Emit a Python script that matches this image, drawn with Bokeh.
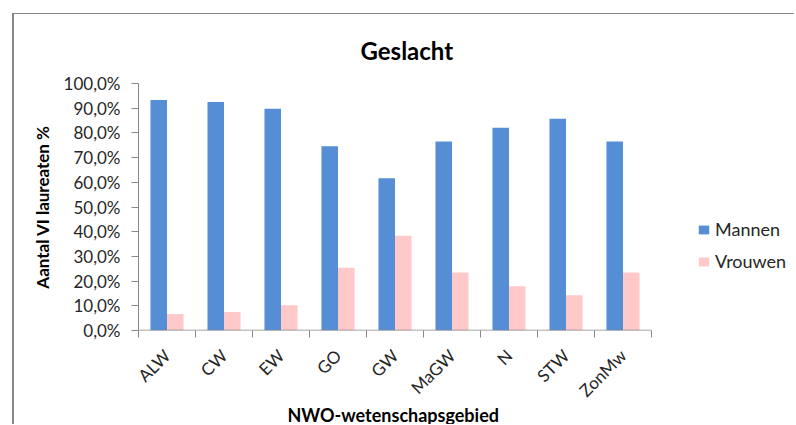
from bokeh.plotting import figure
from bokeh.models import (ColumnDataSource, FixedTicker, Legend, LegendItem, Title)
from bokeh.embed import file_html
from bokeh.resources import INLINE
import math

categories = ["ALW", "CW", "EW", "GO", "GW", "MaGW", "N", "STW", "ZonMw"]
mannen = [93.3, 92.5, 89.8, 74.6, 61.6, 76.5, 82.1, 85.7, 76.5]
vrouwen = [6.7, 7.5, 10.2, 25.4, 38.4, 23.5, 17.9, 14.3, 23.5]
y_ticks = [0, 10, 20, 30, 40, 50, 60, 70, 80, 90, 100]
y_tick_labels = ["0,0%", "10,0%", "20,0%", "30,0%", "40,0%", "50,0%",
                 "60,0%", "70,0%", "80,0%", "90,0%", "100,0%"]

FONT = "Lato"
BLUE = "#558ED5"
PINK = "#FFC9C9"
AXIS = "#868686"
TXT = "#262626"

n = len(categories)
centers = [i + 0.5 for i in range(n)]
bw = 0.29
src = ColumnDataSource(dict(
    xm=[c - bw / 2 for c in centers],
    xv=[c + bw / 2 for c in centers],
    m=mannen, v=vrouwen))

W, H = 782, 411
FRAME_L, CAT_PX = 124, 513 / n
x_end = (W - FRAME_L) / CAT_PX   # extra room to the right holds the legend

p = figure(width=W, height=H, output_backend="svg", toolbar_location=None,
           x_range=(0, x_end), y_range=(0, 100),
           min_border_left=FRAME_L, min_border_right=0,
           min_border_top=68, min_border_bottom=95)
p.outline_line_color = None
p.grid.visible = False
p.styles = {"margin-left": "12px", "margin-top": "13px",
            "border-left": "2px solid #868686",
            "border-top": "1px solid #868686"}

r1 = p.vbar(x="xm", width=bw, top="m", source=src, fill_color=BLUE,
            line_color=None)
r2 = p.vbar(x="xv", width=bw, top="v", source=src, fill_color=PINK,
            line_color=None)
# category axis baseline
p.segment(x0=[0], x1=[n], y0=[0], y1=[0], line_color=AXIS, line_width=1.5)

# title
p.title.text = "Geslacht"
p.title.align = "left"
p.title.offset = 222
p.title.text_font = FONT
p.title.text_font_style = "bold"
p.title.text_font_size = "24px"
p.title.text_color = "black"
p.title.standoff = 38

# y axis
ya = p.yaxis[0]
ya.ticker = FixedTicker(ticks=y_ticks)
ya.major_label_overrides = {t: l for t, l in zip(y_ticks, y_tick_labels)}
ya.minor_tick_line_color = None
ya.major_tick_in = 0
ya.major_tick_out = 7
ya.axis_line_color = AXIS
ya.major_tick_line_color = AXIS
ya.major_label_text_font = FONT
ya.major_label_text_font_size = "17px"
ya.major_label_text_color = TXT
ya.major_label_standoff = 11
ya.axis_label = "Aantal VI laureaten %"
ya.axis_label_text_font = FONT
ya.axis_label_text_font_style = "bold"
ya.axis_label_text_font_size = "17px"
ya.axis_label_text_color = "black"
ya.axis_label_standoff = 8

# x axis
xa = p.xaxis[0]
xa.ticker = FixedTicker(ticks=centers, minor_ticks=list(range(n + 1)))
xa.major_label_overrides = {c: cat for c, cat in zip(centers, categories)}
xa.major_tick_line_color = None
xa.major_tick_in = 0
xa.major_tick_out = 7
xa.minor_tick_line_color = AXIS
xa.minor_tick_in = 0
xa.minor_tick_out = 7
xa.axis_line_color = None
xa.major_label_orientation = math.pi / 4
xa.major_label_text_font = FONT
xa.major_label_text_font_size = "17px"
xa.major_label_text_color = TXT
xa.major_label_standoff = 15

xlabel = Title(text="NWO-wetenschapsgebied", align="left", offset=149,
               text_font=FONT, text_font_style="bold", text_font_size="18px",
               text_color="black", standoff=-20)
p.add_layout(xlabel, "below")

legend = Legend(items=[LegendItem(label="Mannen", renderers=[r1]),
                       LegendItem(label="Vrouwen", renderers=[r2])],
                location=(559, 58), border_line_color=None,
                background_fill_alpha=0,
                glyph_width=13, glyph_height=11, label_height=22,
                spacing=10, label_standoff=5, padding=0, margin=0,
                label_text_font=FONT, label_text_font_size="18px",
                label_text_color=TXT)
p.add_layout(legend, "center")

open("out.html", "w").write(file_html(p, INLINE))
